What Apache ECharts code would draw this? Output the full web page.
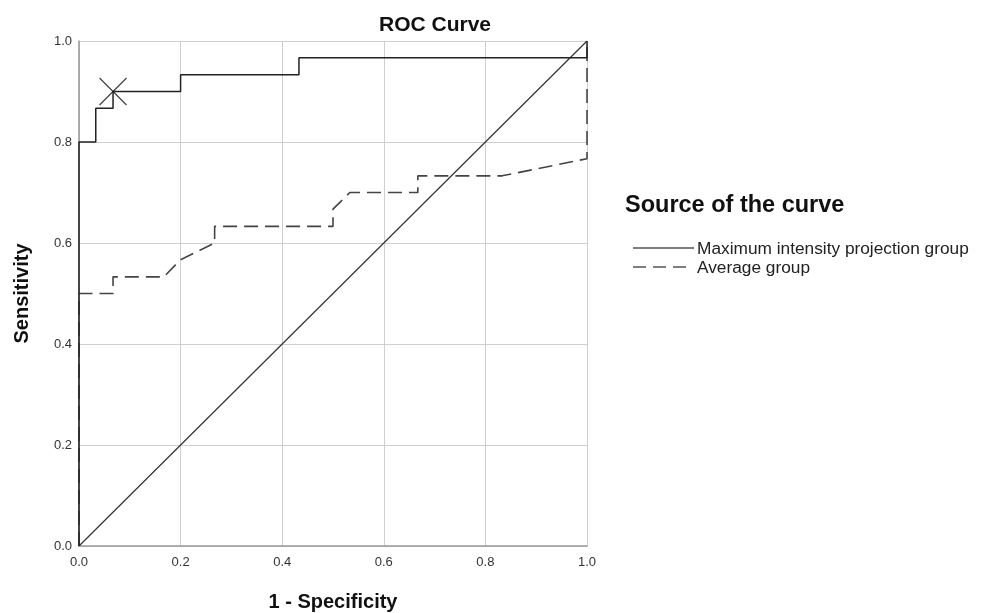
<!DOCTYPE html>
<html><head><meta charset="utf-8">
<script src="https://cdn.jsdelivr.net/npm/echarts@6/dist/echarts.min.js"></script>
<style>html,body{margin:0;padding:0;background:#fff}#c{width:989px;height:613px}</style>
</head><body><div id="c"></div>
<script>
const xTicks = [0, 0.2, 0.4, 0.6, 0.8, 1.0];
const mipX = [0, 0, 0.033, 0.033, 0.067, 0.067, 0.2, 0.2, 0.433, 0.433, 1.0, 1.0];
const mipY = [0, 0.8, 0.8, 0.867, 0.867, 0.9, 0.9, 0.933, 0.933, 0.967, 0.967, 1.0];
const avgX = [0, 0, 0.067, 0.067, 0.167, 0.2, 0.267, 0.267, 0.5, 0.5, 0.533, 0.667, 0.667, 0.833, 1.0, 1.0];
const avgY = [0, 0.5, 0.5, 0.533, 0.533, 0.567, 0.6, 0.633, 0.633, 0.667, 0.7, 0.7, 0.733, 0.733, 0.767, 1.0];
const refX = [0, 1];
const refY = [0, 1];
const cutoff = [[0.067, 0.9]];
const seriesNames = ['Maximum intensity projection group', 'Average group'];

const zip = (a, b) => a.map((v, i) => [v, b[i]]);
const font = 'Arial, "Liberation Sans", sans-serif';
const chart = echarts.init(document.getElementById('c'));
chart.setOption({
  animation: false,
  backgroundColor: '#fff',
  title: { text: 'ROC Curve', left: 430, textAlign: 'center', top: 10,
    textStyle: { fontFamily: font, fontSize: 21, fontWeight: 'bold', color: '#111' } },
  grid: { left: 79, right: 402, top: 41, bottom: 67, containLabel: false, outerBoundsMode: 'none' },
  xAxis: { type: 'value', min: 0, max: 1, interval: 0.2,
    name: '1 - Specificity', nameLocation: 'middle', nameGap: 46,
    nameTextStyle: { fontFamily: font, fontSize: 20, fontWeight: 'bold', color: '#111' },
    axisLine: { show: true, lineStyle: { color: '#999', width: 1.5 } },
    axisTick: { show: false },
    axisLabel: { fontFamily: font, fontSize: 13, color: '#333', margin: 10,
      formatter: v => v.toFixed(1), showMaxLabel: true, showMinLabel: true },
    splitLine: { show: true, lineStyle: { color: '#cfcfcf', width: 1 } } },
  yAxis: { type: 'value', min: 0, max: 1, interval: 0.2,
    name: 'Sensitivity', nameLocation: 'middle', nameGap: 47,
    nameTextStyle: { fontFamily: font, fontSize: 20, fontWeight: 'bold', color: '#111' },
    axisLine: { show: true, lineStyle: { color: '#999', width: 1.5 } },
    axisTick: { show: false },
    axisLabel: { fontFamily: font, fontSize: 13, color: '#333', margin: 7,
      formatter: v => v.toFixed(1) },
    splitLine: { show: true, lineStyle: { color: '#cfcfcf', width: 1 } } },
  series: [
    { name: 'ref', type: 'line', data: zip(refX, refY), showSymbol: false, silent: true,
      lineStyle: { color: '#333', width: 1.2 }, z: 2 },
    { name: seriesNames[1], type: 'line', data: zip(avgX, avgY), showSymbol: false,
      lineStyle: { color: '#444', width: 1.6, type: [14, 7] }, z: 3 },
    { name: seriesNames[0], type: 'line', data: zip(mipX, mipY), showSymbol: false,
      lineStyle: { color: '#222', width: 1.5 }, z: 4 },
    { name: 'cut', type: 'scatter', data: cutoff, symbol: 'path://M0,0L10,10M10,0L0,10',
      symbolSize: 27, itemStyle: { color: 'none', borderColor: '#111', borderWidth: 1.2 }, z: 5 }
  ],
  graphic: [
    { type: 'text', x: 625, y: 206, style: { text: 'Source of the curve', fontFamily: font,
      fontSize: 23.5, fontWeight: 'bold', fill: '#111', verticalAlign: 'middle' } },
    { type: 'line', shape: { x1: 633, y1: 248, x2: 694, y2: 248 }, style: { stroke: '#555', lineWidth: 1.3 } },
    { type: 'text', x: 697, y: 249, style: { text: seriesNames[0], fontFamily: font, fontSize: 17.3, fill: '#222', verticalAlign: 'middle' } },
    { type: 'line', shape: { x1: 633, y1: 267, x2: 687, y2: 267 }, style: { stroke: '#555', lineWidth: 1.5, lineDash: [13, 7] } },
    { type: 'text', x: 697, y: 268, style: { text: seriesNames[1], fontFamily: font, fontSize: 17.3, fill: '#222', verticalAlign: 'middle' } }
  ]
});
</script></body></html>
